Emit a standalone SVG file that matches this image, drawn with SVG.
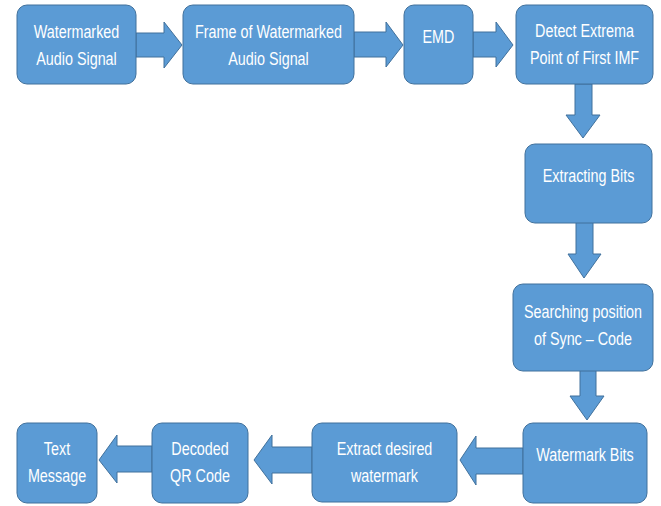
<svg xmlns="http://www.w3.org/2000/svg" width="661" height="506" viewBox="0 0 661 506">
<style>
.box{fill:#5B9BD5;stroke:#41719C;stroke-width:1}
.arr{fill:#5B9BD5;stroke:#41719C;stroke-width:1}
text{font-family:"Liberation Sans",Arial,sans-serif;font-size:17.5px;fill:#FFFFFF;text-anchor:middle}
</style>
<rect width="661" height="506" fill="#FFFFFF"/>
<g id="connectors">
<polygon class="arr" points="136,33 164,33 164,22 182,45 164,68 164,57 136,57"/>
<polygon class="arr" points="354,32 386,32 386,22 403,45 386,67 386,57 354,57"/>
<polygon class="arr" points="473,32 496,32 496,22 513,45 496,67 496,57 473,57"/>
<polygon class="arr" points="575,84 592,84 592,115 600,115 583,138 566,115 575,115"/>
<polygon class="arr" points="576,222 593,222 593,254 601,254 584,278 568,254 576,254"/>
<polygon class="arr" points="580,370 596,370 596,396 604,396 587,420 570,396 580,396"/>
<polygon class="arr" points="523,448 476,448 476,436 460,460 476,485 476,474 523,474"/>
<polygon class="arr" points="312,447 272,447 272,435 254,460 272,484 272,473 312,473"/>
<polygon class="arr" points="152,446 117,446 117,435 99,460 117,483 117,472 152,472"/>
</g>
<g id="n1"><rect class="box" x="17" y="5" width="119" height="79" rx="10"/><text transform="translate(76.5 38) scale(0.82 1)">Watermarked</text><text transform="translate(76.5 65) scale(0.82 1)">Audio Signal</text></g>
<g id="n2"><rect class="box" x="183" y="5" width="171" height="79" rx="10"/><text transform="translate(268.5 38) scale(0.82 1)">Frame of Watermarked</text><text transform="translate(268.5 65) scale(0.82 1)">Audio Signal</text></g>
<g id="n3"><rect class="box" x="404" y="5" width="69" height="79" rx="10"/><text transform="translate(438.5 43) scale(0.82 1)">EMD</text></g>
<g id="n4"><rect class="box" x="516" y="5" width="137" height="79" rx="10"/><text transform="translate(584.5 37) scale(0.82 1)">Detect Extrema</text><text transform="translate(584.5 64) scale(0.82 1)">Point of First IMF</text></g>
<g id="n5"><rect class="box" x="525" y="144" width="127" height="79" rx="10"/><text transform="translate(588.5 182) scale(0.82 1)">Extracting Bits</text></g>
<g id="n6"><rect class="box" x="513" y="284" width="140" height="87" rx="10"/><text transform="translate(583 318) scale(0.82 1)">Searching position</text><text transform="translate(583 345) scale(0.82 1)">of Sync – Code</text></g>
<g id="n7"><rect class="box" x="523" y="423" width="124" height="80" rx="10"/><text transform="translate(585 461) scale(0.82 1)">Watermark Bits</text></g>
<g id="n8"><rect class="box" x="312" y="423" width="145" height="79" rx="10"/><text transform="translate(384.5 455) scale(0.82 1)">Extract desired</text><text transform="translate(384.5 482) scale(0.82 1)">watermark</text></g>
<g id="n9"><rect class="box" x="152" y="423" width="96" height="80" rx="10"/><text transform="translate(200 455) scale(0.82 1)">Decoded</text><text transform="translate(200 482) scale(0.82 1)">QR Code</text></g>
<g id="n10"><rect class="box" x="17" y="423" width="80" height="80" rx="10"/><text transform="translate(57 455) scale(0.82 1)">Text</text><text transform="translate(57 482) scale(0.82 1)">Message</text></g>
</svg>
